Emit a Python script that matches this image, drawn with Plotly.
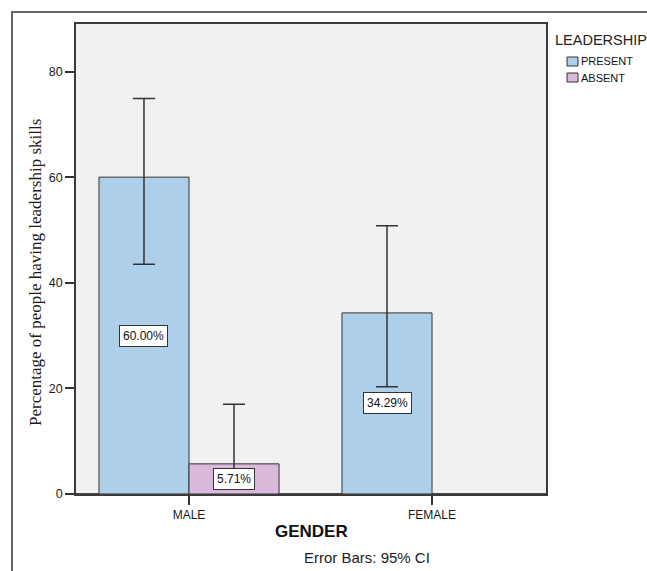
import plotly.graph_objects as go

# Chart data
genders = ["MALE", "FEMALE"]
series_names = ["PRESENT", "ABSENT"]
legend_title = "LEADERSHIP"
present_pct = [60.00, 34.29]
absent_pct = [5.71, None]
present_upper = [74.9, 50.8]
present_lower = [43.5, 20.3]
absent_upper = [17.0, None]
absent_lower = [1.2, None]
y_ticks = [0, 20, 40, 60, 80]

colors = ["#aecfea", "#d9b9dc"]
W, H = 647, 571
L, R, T, B = 76, 101, 24, 77
BARGAP = 0.259

x_pos = list(range(len(genders)))
pw = W - L - R
ph = H - T - B


def px_x(x):
    return (x - L) / pw


def px_y(y):
    return (H - B - y) / ph


def err(vals, hi, lo):
    plus = [None if v is None else h - v for v, h in zip(vals, hi)]
    minus = [None if v is None else v - l for v, l in zip(vals, lo)]
    return plus, minus


fig = go.Figure()
for name, vals, hi, lo, col in [
    (series_names[0], present_pct, present_upper, present_lower, colors[0]),
    (series_names[1], absent_pct, absent_upper, absent_lower, colors[1]),
]:
    plus, minus = err(vals, hi, lo)
    fig.add_trace(go.Bar(
        x=x_pos, y=vals, name=name, showlegend=False,
        marker=dict(color=col, line=dict(color="#333333", width=1)),
        error_y=dict(type="data", symmetric=False, array=plus, arrayminus=minus,
                     color="#333333", thickness=1.5, width=11),
    ))

# value labels in white boxes at the middle of each bar
half = (1 - BARGAP) / 4
for k, vals in enumerate([present_pct, absent_pct]):
    off = -half if k == 0 else half
    for xi, v in zip(x_pos, vals):
        if v is None:
            continue
        fig.add_annotation(
            x=xi + off, y=v / 2, text=f"{v:.2f}%", showarrow=False,
            font=dict(family="Liberation Sans, Arial", size=12, color="#111111"),
            bgcolor="white", bordercolor="#333333", borderwidth=1, borderpad=3,
        )

# y-axis title
fig.add_annotation(
    xref="paper", yref="paper", x=px_x(35), y=px_y(273),
    text="Percentage of people having leadership skills", textangle=-90,
    showarrow=False, font=dict(family="Liberation Serif, Times New Roman", size=17, color="#1a1a1a"),
    xanchor="center", yanchor="middle",
)
# x-axis title
fig.add_annotation(
    xref="paper", yref="paper", x=0.5, y=px_y(531),
    text="<b>GENDER</b>", showarrow=False,
    font=dict(family="Liberation Sans, Arial", size=17, color="#111111"),
    xanchor="center", yanchor="middle",
)
fig.add_annotation(
    xref="paper", yref="paper", x=px_x(367), y=px_y(557),
    text="Error Bars: 95% CI", showarrow=False,
    font=dict(family="Liberation Sans, Arial", size=15, color="#222222"),
    xanchor="center", yanchor="middle",
)

# legend block: title, swatches and series names
fig.add_annotation(
    xref="paper", yref="paper", x=px_x(553), y=px_y(39.5),
    text=legend_title, showarrow=False, xanchor="left", yanchor="middle",
    font=dict(family="Liberation Sans, Arial", size=14.5, color="#222222"),
)
for k, (name, col) in enumerate(zip(series_names, colors)):
    cy = 61.5 + 16 * k
    fig.add_shape(type="rect", xref="paper", yref="paper",
                  x0=px_x(567), x1=px_x(578), y0=px_y(cy + 4.5), y1=px_y(cy - 4.5),
                  fillcolor=col, line=dict(color="#333333", width=1))
    fig.add_annotation(
        xref="paper", yref="paper", x=px_x(579), y=px_y(cy),
        text=name, showarrow=False, xanchor="left", yanchor="middle",
        font=dict(family="Liberation Sans, Arial", size=11, color="#111111"),
    )

# outer frame
fig.add_shape(type="rect", xref="paper", yref="paper",
              x0=px_x(12), x1=px_x(W + 20),
              y0=px_y(H + 20), y1=px_y(12),
              line=dict(color="#333333", width=1.5), fillcolor="rgba(0,0,0,0)", layer="below")

fig.update_layout(
    width=W, height=H,
    margin=dict(l=L, r=R, t=T, b=B, autoexpand=False),
    paper_bgcolor="white", plot_bgcolor="#f1f1f1",
    barmode="group", bargap=BARGAP, bargroupgap=0,
    font=dict(family="Liberation Sans, Arial", size=12, color="#222222"),
    showlegend=False,
)
fig.update_xaxes(
    range=[-0.465, 1.469], tickvals=x_pos, ticktext=genders,
    ticks="outside", ticklen=9, tickwidth=1.5, tickcolor="#333333",
    showline=True, mirror=True, linecolor="#3a3a3a", linewidth=1.5,
    showgrid=False, zeroline=False, tickfont=dict(size=12, color="#1a1a1a"),
)
fig.update_yaxes(
    range=[0, 89], tickvals=y_ticks,
    ticks="outside", ticklen=9, tickwidth=1.5, tickcolor="#333333",
    showline=True, mirror=True, linecolor="#3a3a3a", linewidth=1.5,
    showgrid=False, zeroline=True, zerolinecolor="#4a4a4a", zerolinewidth=3,
    tickfont=dict(size=12.5, color="#1a1a1a"),
)

fig.write_html("out.html")
